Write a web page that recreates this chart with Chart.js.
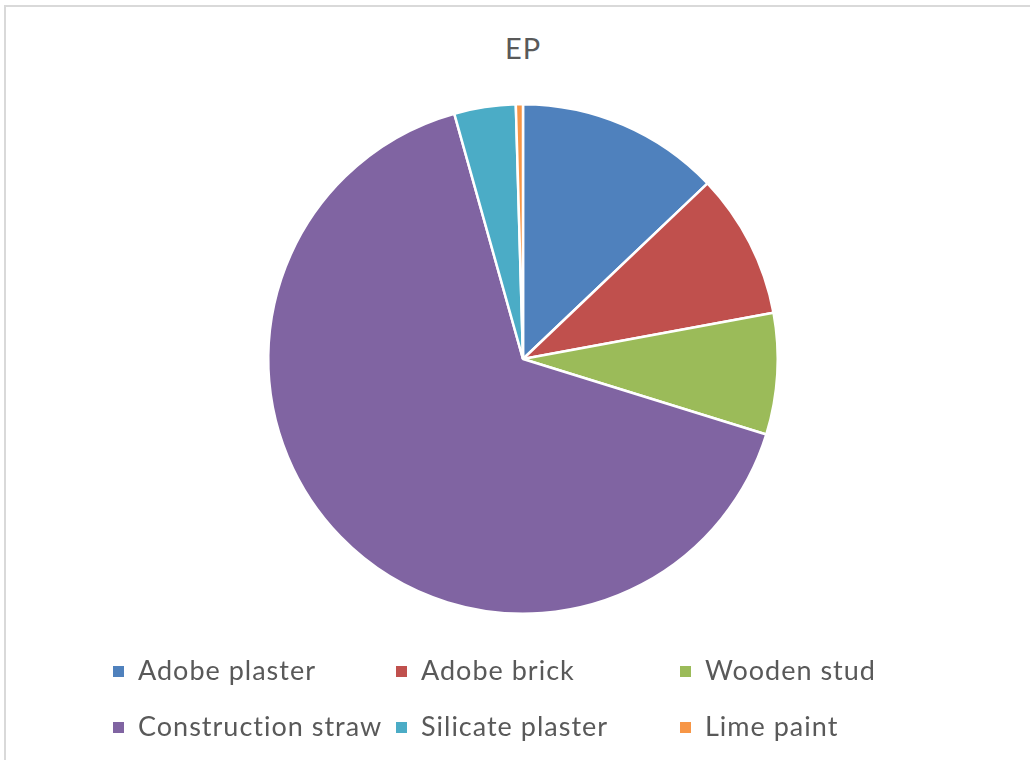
<!DOCTYPE html>
<html>
<head>
<meta charset="utf-8">
<script src="https://cdn.jsdelivr.net/npm/chart.js@4/dist/chart.umd.min.js"></script>
<style>
  html, body { margin: 0; padding: 0; background: #fff; }
  #wrap { position: relative; width: 1030px; height: 760px; overflow: hidden; }
  #frame { position: absolute; left: 4px; top: 5px; width: 1100px; height: 900px; border-top: 2px solid #d9d9d9; border-left: 2px solid #d9d9d9; box-sizing: border-box; }
  #title { position: absolute; left: 0; width: 1046px; top: 30px; text-align: center; font-family: Lato, "Open Sans", sans-serif; font-size: 29px; color: #595959; letter-spacing: 1px; }
  canvas { position: absolute; left: 0; top: 0; }
  .leg { position: absolute; font-family: Lato, "Open Sans", sans-serif; font-size: 27px; letter-spacing: 1px; color: #595959; white-space: nowrap; line-height: 30px; }
  .leg span.sq { display: inline-block; width: 11px; height: 11px; margin-right: 14px; vertical-align: 3px; }
</style>
</head>
<body>
<div id="wrap">
  <div id="frame"></div>
  <div id="title">EP</div>
  <canvas id="c" width="1030" height="760"></canvas>
  <div id="legend"></div>
</div>
<script>
const chartTitle = "EP";
const categories = ["Adobe plaster", "Adobe brick", "Wooden stud", "Construction straw", "Silicate plaster", "Lime paint"];
const values = [12.9, 9.2, 7.7, 65.9, 3.9, 0.45];
const colors = ["#4F81BD", "#C0504D", "#9BBB59", "#8064A2", "#4BACC6", "#F79646"];

document.getElementById('title').textContent = chartTitle;

new Chart(document.getElementById('c'), {
  type: 'pie',
  data: {
    labels: categories,
    datasets: [{
      data: values,
      backgroundColor: colors,
      borderColor: '#ffffff',
      borderWidth: 2.5
    }]
  },
  options: {
    responsive: false,
    animation: false,
    layout: { padding: { left: 267, right: 251, top: 103, bottom: 145 } },
    plugins: {
      legend: { display: false },
      title: { display: false },
      tooltip: { enabled: false }
    }
  }
});

// legend grid: 3 columns x 2 rows
const legend = document.getElementById('legend');
const colX = [113, 396, 680];
const rowY = [655, 711];
categories.forEach((name, i) => {
  const d = document.createElement('div');
  d.className = 'leg';
  d.style.left = colX[i % 3] + 'px';
  d.style.top = rowY[Math.floor(i / 3)] + 'px';
  const sq = document.createElement('span');
  sq.className = 'sq';
  sq.style.background = colors[i];
  d.appendChild(sq);
  d.appendChild(document.createTextNode(name));
  legend.appendChild(d);
});
</script>
</body>
</html>
